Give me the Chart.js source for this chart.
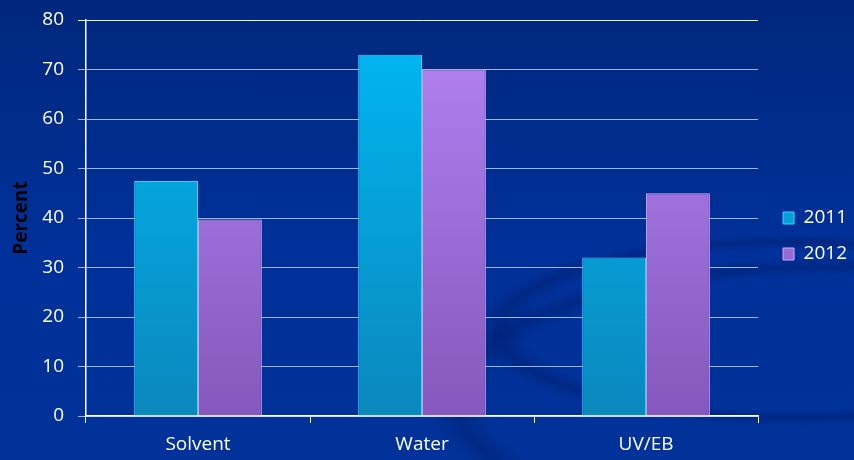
<!DOCTYPE html>
<html>
<head>
<meta charset="utf-8">
<script src="https://cdn.jsdelivr.net/npm/chart.js@4/dist/chart.umd.min.js"></script>
<style>
  html, body { margin: 0; padding: 0; }
  body {
    width: 854px; height: 460px; overflow: hidden;
    background:
      radial-gradient(ellipse 330px 100px at 790px 330px, rgba(0,30,110,0) 80%, rgba(0,30,110,0.5) 88%, rgba(0,30,110,0) 96%),
      radial-gradient(ellipse 420px 150px at 830px 400px, rgba(0,30,110,0) 82%, rgba(0,30,110,0.45) 89%, rgba(0,30,110,0) 96%),
      linear-gradient(180deg, #00277c 0%, #00319a 55%, #003299 100%);
  }
  #wrap { position: relative; width: 854px; height: 460px; }
</style>
</head>
<body>
<div id="wrap"><canvas id="Chart1" width="854" height="460"></canvas></div>
<script>
// values
const categories = ['Solvent', 'Water', 'UV/EB'];
const series2011 = [47.5, 73, 32];
const series2012 = [39.7, 70, 45];
const seriesLabels = ['2011', '2012'];
const yTicks = [0, 10, 20, 30, 40, 50, 60, 70, 80];

const fontFamily = '"Open Sans", "Noto Sans", sans-serif';

function barFill(top, bottom) {
  return function(context) {
    const area = context.chart.chartArea;
    if (!area) return top;
    const g = context.chart.ctx.createLinearGradient(0, area.top, 0, area.bottom);
    g.addColorStop(0, top);
    g.addColorStop(1, bottom);
    return g;
  };
}

// legend sits a bit further right than chart.js puts it
const legendNudge = {
  id: 'legendNudge',
  afterInit(chart) {
    const legend = chart.legend;
    const fit = legend.fit;
    legend.fit = function() {
      fit.call(this);
      this.width += 5;
    };
    const draw = legend.draw;
    legend.draw = function() {
      const c = this.ctx;
      c.save();
      c.translate(8, -4);
      draw.call(this);
      c.restore();
    };
  }
};

const ctx = document.getElementById('Chart1').getContext('2d');
const myChart = new Chart(ctx, {
  type: 'bar',
  data: {
    labels: categories,
    datasets: [
      {
        label: seriesLabels[0],
        data: series2011,
        backgroundColor: barFill('#00b8f4', '#0b88bc'),
        borderColor: '#3cd0ff',
        borderWidth: 1
      },
      {
        label: seriesLabels[1],
        data: series2012,
        backgroundColor: barFill('#b484f4', '#8458bc'),
        borderColor: '#d0a8ff',
        borderWidth: 1
      }
    ]
  },
  plugins: [legendNudge],
  options: {
    responsive: false,
    animation: false,
    layout: { padding: { top: 20, right: 0, left: 0, bottom: 0 } },
    datasets: {
      bar: { categoryPercentage: 0.57, barPercentage: 1.0 }
    },
    plugins: {
      tooltip: { enabled: false },
      legend: {
        position: 'right',
        labels: {
          color: '#ffffff',
          boxWidth: 11,
          boxHeight: 12,
          padding: 17,
          font: { family: fontFamily, size: 19 }
        }
      }
    },
    scales: {
      x: {
        afterFit: function(s) { s.height = 44; },
        grid: {
          offset: true,
          drawOnChartArea: false,
          color: '#ffffff',
          tickLength: 7
        },
        border: { color: '#ffffff', width: 1.5 },
        ticks: {
          color: '#ffffff',
          padding: 10,
          font: { family: fontFamily, size: 19 }
        }
      },
      y: {
        min: 0,
        max: 80,
        afterFit: function(s) { s.width = 86; s.paddingTop = 0; s.paddingBottom = 0; },
        afterBuildTicks: function(axis) {
          axis.ticks = yTicks.map(v => ({ value: v }));
        },
        grid: {
          color: function(c) { return c.tick && c.tick.value === 80 ? '#eef2fa' : 'rgba(190,205,235,0.85)'; },
          lineWidth: 1,
          tickLength: 8
        },
        border: { color: '#ffffff', width: 1.5 },
        ticks: {
          color: '#ffffff',
          padding: 14,
          font: { family: fontFamily, size: 19 }
        },
        title: {
          display: true,
          text: 'Percent',
          color: '#000000',
          padding: { top: 10, bottom: 4 },
          font: { family: fontFamily, size: 19, weight: 'bold' }
        }
      }
    }
  }
});
</script>
</body>
</html>
